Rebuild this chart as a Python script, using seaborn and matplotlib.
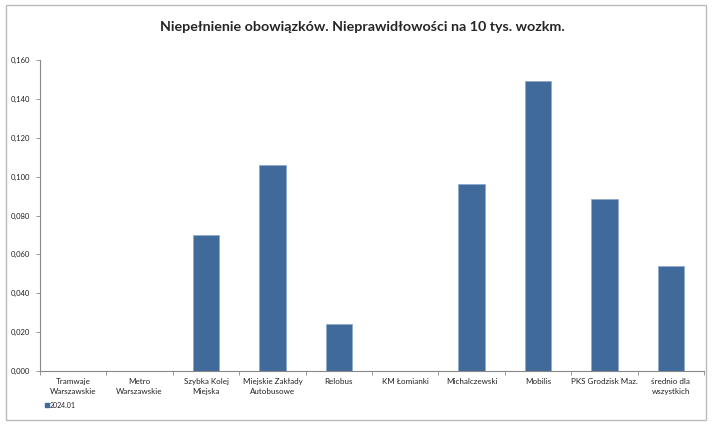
import numpy as np
import pandas as pd
import matplotlib
matplotlib.use("Agg")
import matplotlib.pyplot as plt
import seaborn as sns
from matplotlib.patches import Rectangle
from matplotlib.ticker import FuncFormatter, FixedLocator

# ── data ──────────────────────────────────────
przewoznicy = [
    "Tramwaje\nWarszawskie", "Metro\nWarszawskie", "Szybka Kolej\nMiejska",
    "Miejskie Zakłady\nAutobusowe", "Relobus", "KM Łomianki",
    "Michalczewski", "Mobilis", "PKS Grodzisk Maz.", "średnio dla\nwszystkich",
]
wartosci = [0.0, 0.0, 0.070, 0.106, 0.024, 0.0, 0.096, 0.149, 0.0885, 0.054]
okres = "2024.01"
y_ticks = [0.0, 0.02, 0.04, 0.06, 0.08, 0.10, 0.12, 0.14, 0.16]

df = pd.DataFrame({"przewoznik": przewoznicy, "wartosc": wartosci, "okres": okres})

# ── style ─────────────────────────────────────
sns.set_style("white")
plt.rcParams["font.family"] = ["Lato", "DejaVu Sans"]

fig = plt.figure(figsize=(7.12, 4.26), dpi=100)
ax = fig.add_axes([40 / 712, 1 - 371 / 426, 664 / 712, 311 / 426])

bar_col = "#3F6A9A"
sns.barplot(data=df, x="przewoznik", y="wartosc", hue="okres",
            palette=[bar_col], saturation=1, width=0.40, ax=ax,
            edgecolor="#8FAAD0", linewidth=0.6, legend=False)

ax.set_ylim(0, 0.16)
ax.set_xlim(-0.5, len(przewoznicy) - 0.5)
ax.set_yticks(y_ticks)
ax.yaxis.set_major_formatter(FuncFormatter(lambda v, _: f"{v:.3f}".replace(".", ",")))
ax.set_xlabel("")
ax.set_ylabel("")

# ticks between categories, labels centred under bars
ax.xaxis.set_major_locator(FixedLocator(np.arange(len(przewoznicy) + 1) - 0.5))
ax.xaxis.set_major_formatter(FuncFormatter(lambda v, _: ""))
ax.xaxis.set_minor_locator(FixedLocator(np.arange(len(przewoznicy))))
ax.set_xticklabels(przewoznicy, minor=True, linespacing=1.55)
ax.tick_params(axis="x", which="minor", length=0, labelsize=5.8, pad=5, labelcolor="#222222")
ax.tick_params(axis="x", which="major", length=3, width=0.6, color="#888888", direction="out")
ax.tick_params(axis="y", length=3, width=0.6, color="#888888", direction="out",
               labelsize=5.5, labelcolor="#222222", pad=4)
ax.tick_params(axis="both", bottom=True, left=True)

for s in ["top", "right"]:
    ax.spines[s].set_visible(False)
for s in ["left", "bottom"]:
    ax.spines[s].set_color("#888888")
    ax.spines[s].set_linewidth(0.8)

fig.suptitle("Niepełnienie obowiązków. Nieprawidłowości na 10 tys. wozkm.",
             x=362 / 712, y=1 - 27 / 426, va="center", fontsize=10.3, fontweight="bold")

# legend
fig.patches.append(Rectangle((45 / 712, 1 - 407 / 426), 4 / 712, 4 / 426,
                             transform=fig.transFigure, color=bar_col))
fig.text(50 / 712, 1 - 405 / 426, okres, fontsize=5, va="center", color="#222222")

# chart-area border
fig.patches.append(Rectangle((6 / 712, 6 / 426), 700 / 712, 415 / 426,
                             transform=fig.transFigure, fill=False,
                             edgecolor="#BBBBBB", linewidth=1.0))

fig.savefig("out.png", dpi=100)
